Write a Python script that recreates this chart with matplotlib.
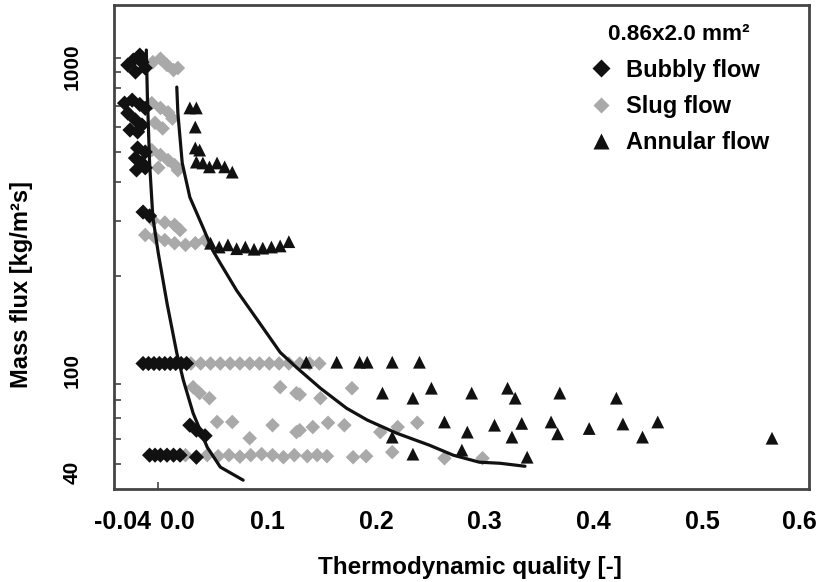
import matplotlib
matplotlib.use("Agg")
import matplotlib.pyplot as plt
from matplotlib.ticker import FixedLocator, FixedFormatter, NullFormatter
from matplotlib.lines import Line2D

# ---------------- data ----------------
bubbly_x = [-0.023, -0.017, -0.012, -0.021, -0.028, -0.015,
            -0.031, -0.024, -0.017, -0.012, -0.028, -0.021, -0.015, -0.026, -0.019,
            -0.019, -0.012, -0.021, -0.015, -0.020, -0.012,
            -0.014, -0.008,
            -0.014, -0.009, -0.004, 0.001, 0.006, 0.011, 0.016, 0.021, 0.026,
            0.029, 0.035, 0.043,
            -0.008, -0.003, 0.002, 0.008, 0.014, 0.020, 0.035]
bubbly_G = [985, 1022, 929, 902, 950, 970,
            717, 733, 710, 690, 666, 633, 610, 588, 580,
            515, 500, 478, 461, 438, 445,
            321, 312,
            105, 105, 105, 105, 105, 105, 105, 105, 105,
            66.6, 64.2, 61.6,
            53.4, 53.4, 53.4, 53.4, 53.4, 53.4, 52.6]

slug_x = [-0.005, 0.002, 0.008, 0.014, 0.018,
          -0.006, 0.002, 0.009, 0.013, -0.003, 0.004,
          -0.006, 0.002, 0.009, 0.015, 0.018, 0.000,
          -0.005, 0.006, 0.015, -0.012, -0.003, 0.006, 0.015, 0.025, 0.034, 0.043, 0.020,
          0.030, 0.039, 0.048, 0.057, 0.066, 0.075, 0.084, 0.093, 0.102, 0.111, 0.120, 0.130, 0.139, 0.148,
          0.032, 0.038, 0.047, 0.112, 0.127, 0.130, 0.149, 0.178,
          0.054, 0.068, 0.084, 0.105, 0.127, 0.130, 0.142, 0.156, 0.171, 0.204, 0.220, 0.238,
          0.025, 0.035, 0.045, 0.055, 0.065, 0.075, 0.085, 0.095, 0.105, 0.115, 0.125,
          0.137, 0.146, 0.155, 0.179, 0.191, 0.215, 0.263, 0.298]
slug_G = [970, 995, 950, 915, 929,
          717, 692, 670, 640, 620, 595,
          507, 489, 471, 454, 437, 445,
          302, 297, 292, 271, 266, 261, 255, 252, 255, 261, 281,
          105, 105, 105, 105, 105, 105, 105, 105, 105, 105, 105, 105, 105, 105,
          88.2, 84.4, 81.3, 88.2, 84.4, 83.5, 81.3, 87.5,
          68.2, 68.2, 60.5, 66.6, 63.3, 64.2, 65.7, 67.8, 66.6, 63.3, 65.7, 67.8,
          53.4, 52.8, 53.4, 53.0, 53.4, 52.8, 53.4, 53.8, 53.4, 52.6, 53.4,
          53.0, 53.4, 53.0, 52.6, 53.0, 54.6, 52.2, 52.2]

annular_x = [0.029, 0.035, 0.034,
             0.034, 0.038, 0.035, 0.041, 0.047, 0.054, 0.061, 0.068,
             0.048, 0.056, 0.064, 0.072, 0.080, 0.088, 0.096, 0.104, 0.112, 0.120,
             0.136, 0.164, 0.185, 0.192, 0.215, 0.240,
             0.206, 0.234, 0.251, 0.288, 0.321, 0.328, 0.369, 0.421,
             0.215, 0.263, 0.284, 0.309, 0.325, 0.334, 0.361, 0.367, 0.396, 0.427, 0.445, 0.459, 0.564,
             0.234, 0.279, 0.339]
annular_G = [692, 692, 601,
             515, 507, 464, 461, 448, 461, 448, 431,
             255, 248, 252, 245, 248, 244, 246, 248, 250, 258,
             106, 106, 106, 106, 106, 106,
             84.4, 81.3, 87.5, 84.4, 87.5, 81.3, 84.4, 81.3,
             61, 68.2, 63.3, 66.6, 61, 67.5, 68.2, 62.5, 65, 67.2, 61, 68.2, 60.5,
             53.8, 55.4, 52.6]

# transition lines
bs_x = [-0.011, -0.010, -0.008, -0.005, 0.000, 0.008, 0.017, 0.023, 0.032, 0.045, 0.057, 0.078]
bs_G = [1061, 750, 461, 309, 237, 164, 113.4, 92.9, 72.8, 56.6, 48.9, 44.4]

sa_x = [0.017, 0.018, 0.022, 0.029, 0.041, 0.050, 0.057, 0.072, 0.091, 0.112, 0.127,
        0.149, 0.173, 0.192, 0.219, 0.249, 0.271, 0.295, 0.314, 0.337]
sa_G = [807, 666, 461, 358, 287, 242, 220, 180, 145, 114, 102,
        87.5, 75.5, 69.2, 62.8, 57.5, 53.4, 50.7, 50.3, 49.2]

# tick labels
x_label_pos = [-0.033, 0.018, 0.1, 0.2, 0.3, 0.4, 0.5, 0.589]
x_labels = ["-0.04", "0.0", "0.1", "0.2", "0.3", "0.4", "0.5", "0.6"]
x_tick_marks = [0.0, 0.1, 0.2, 0.3, 0.4, 0.5]
y_label_pos = [47.2, 100, 935]
y_labels = ["40", "100", "1000"]
y_tick_marks = [50, 60, 70, 80, 90, 100, 200, 300, 400, 500, 600, 700, 800, 900, 1000]

legend_title = "0.86x2.0 mm\u00b2"
series_names = ["Bubbly flow", "Slug flow", "Annular flow"]

# ---------------- figure ----------------
regular = ["Liberation Sans", "DejaVu Sans"]

fig = plt.figure(figsize=(8.22, 5.82), dpi=100)
W, H = 822, 582
ax = fig.add_axes([114 / W, 1 - 489 / H, (809 - 114) / W, (489 - 5) / H])

black = "#111111"
grey = "#a9a9a9"

ax.scatter(slug_x, slug_G, marker="D", s=55, color=grey, edgecolors="none", zorder=2)
ax.scatter(bubbly_x, bubbly_G, marker="D", s=60, color=black, edgecolors="none", zorder=3)
ax.scatter(annular_x, annular_G, marker="^", s=85, color=black, edgecolors="none", zorder=3)

ax.plot(bs_x, bs_G, color=black, lw=2.3, zorder=4, solid_capstyle="round")
ax.plot(sa_x, sa_G, color=black, lw=2.3, zorder=4, solid_capstyle="round")

ax.set_yscale("log")
ax.set_xlim(-0.0407, 0.598)
ax.set_ylim(41.6, 1479)

# ticks: short inward marks + separately placed labels
ax.xaxis.set_major_locator(FixedLocator(x_label_pos))
ax.xaxis.set_major_formatter(FixedFormatter(x_labels))
ax.xaxis.set_minor_locator(FixedLocator(x_tick_marks))
ax.xaxis.set_minor_formatter(NullFormatter())
ax.yaxis.set_major_locator(FixedLocator(y_label_pos))
ax.yaxis.set_major_formatter(FixedFormatter(y_labels))
ax.yaxis.set_minor_locator(FixedLocator(y_tick_marks))
ax.yaxis.set_minor_formatter(NullFormatter())

ax.tick_params(which="major", length=0)
ax.tick_params(which="minor", direction="in", length=5, width=1.2, color="#444444")
ax.tick_params(axis="x", which="major", pad=15)
ax.tick_params(axis="y", which="major", pad=23)
for lab in ax.get_xticklabels():
    lab.set_fontfamily(regular)
    lab.set_fontweight("bold")
    lab.set_fontsize(18)
for lab in ax.get_yticklabels():
    lab.set_fontfamily(regular)
    lab.set_fontweight("bold")
    lab.set_fontsize(15)
    lab.set_rotation(90)
    lab.set_va("center")

for sp in ax.spines.values():
    sp.set_color("#444444")
    sp.set_linewidth(2)

ax.set_xlabel("Thermodynamic quality [-]", fontfamily=regular, fontweight="bold", fontsize=17.5)
ax.xaxis.set_label_coords((470 - 114) / 695, (489 - 556) / 484)
ax.set_ylabel("Mass flux [kg/m\u00b2s]", fontfamily=regular, fontweight="bold", fontsize=17)
ax.yaxis.set_label_coords((33 - 114) / 695, (489 - 284) / 484)

handles = [
    Line2D([], [], ls="none", marker="D", ms=9, color=black, mec="none"),
    Line2D([], [], ls="none", marker="D", ms=8, color=grey, mec="none"),
    Line2D([], [], ls="none", marker="^", ms=11, color=black, mec="none"),
]
leg = ax.legend(handles, series_names, title=legend_title, loc="upper left",
                bbox_to_anchor=(582 / W, 1 - 17 / H), bbox_transform=fig.transFigure,
                frameon=False, borderpad=0.3, handlelength=1.0, handletextpad=0.55,
                labelspacing=0.57, borderaxespad=0,
                prop={"family": regular, "weight": "bold", "size": 17},
                title_fontproperties={"family": regular, "weight": "bold", "size": 16.2})

fig.savefig("out.png", dpi=100, facecolor="white")
